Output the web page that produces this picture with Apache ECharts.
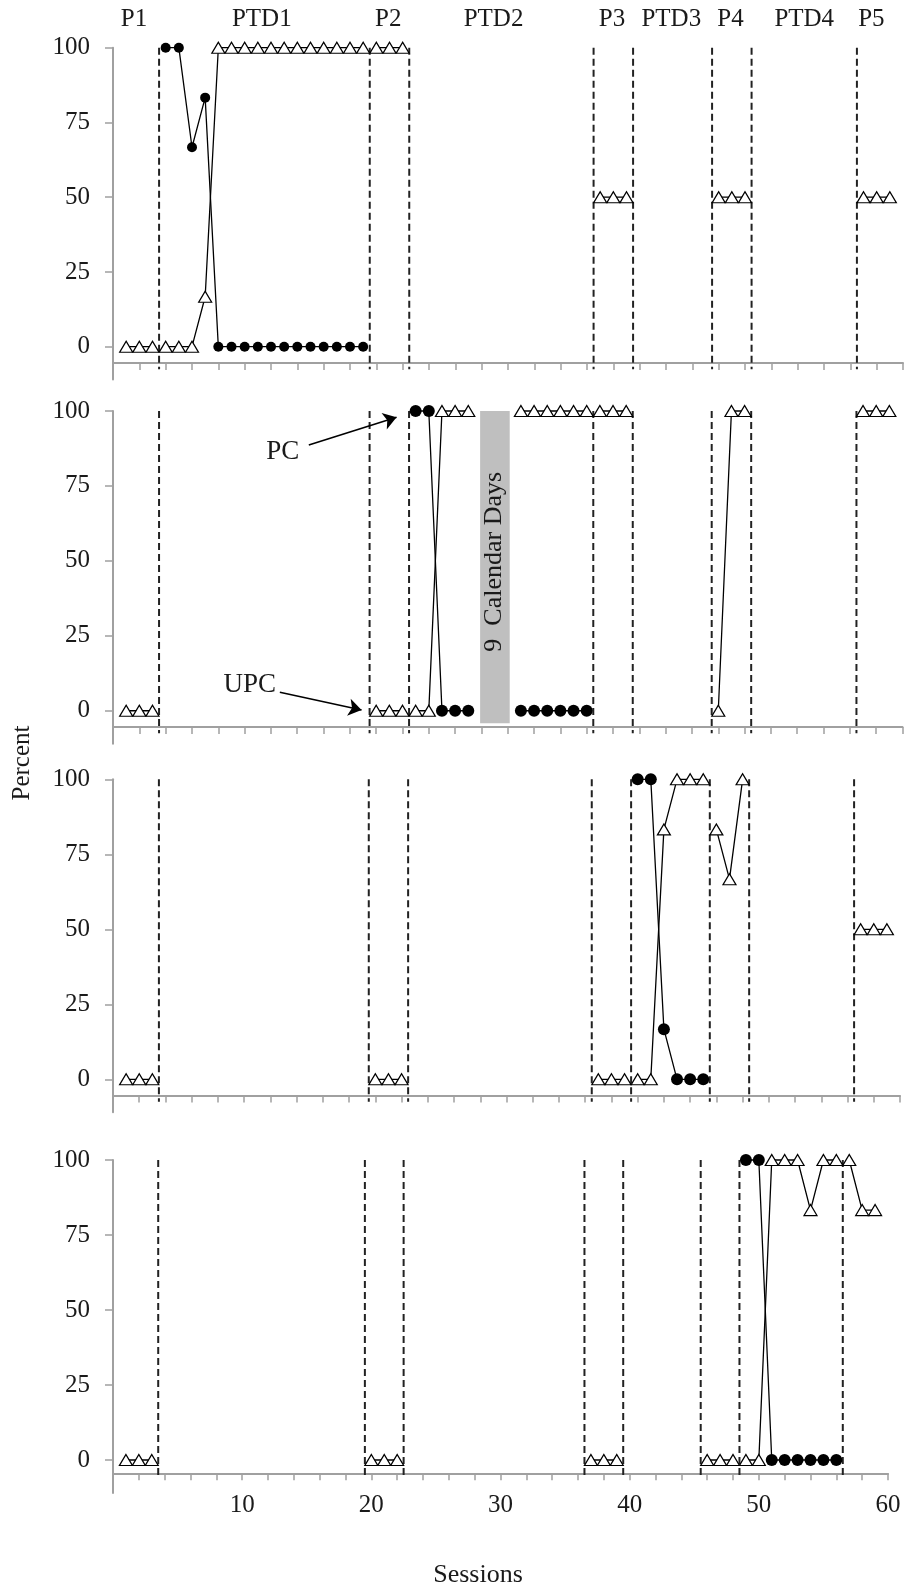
<!DOCTYPE html>
<html>
<head>
<meta charset="utf-8">
<title>PC / UPC by session</title>
<script src="https://cdn.jsdelivr.net/npm/echarts@6/dist/echarts.min.js"></script>
<style>
  html, body { margin: 0; padding: 0; background: #fff; }
  #main { width: 907px; height: 1591px; }
</style>
</head>
<body>
<div id="main"></div>
<script>
var N = null;
var sessions = [
  1, 2, 3, 4, 5, 6, 7, 8, 9, 10, 11, 12, 13, 14, 15, 16, 17, 18, 19, 20,
  21, 22, 23, 24, 25, 26, 27, 28, 29, 30, 31, 32, 33, 34, 35, 36, 37, 38, 39, 40,
  41, 42, 43, 44, 45, 46, 47, 48, 49, 50, 51, 52, 53, 54, 55, 56, 57, 58, 59, 60
];
// phase change lines, between sessions
var phaseLines = [3.5, 19.5, 22.5, 36.5, 39.5, 45.5, 48.5, 56.5];
var phaseNames = ["P1", "PTD1", "P2", "PTD2", "P3", "PTD3", "P4", "PTD4", "P5"];
var phaseLabelX = [1.6, 11.3, 20.9, 28.9, 37.9, 42.4, 46.9, 52.5, 57.6];
var phaseLabelY = 109.3;
var yTicks = [0, 25, 50, 75, 100];

// panel 1  (UPC = triangles, PC = circles)
var upc1 = [
  0, 0, 0, 0, 0, 0, 16.7, 100, 100, 100,
  100, 100, 100, 100, 100, 100, 100, 100, 100, 100,
  100, 100, N, N, N, N, N, N, N, N,
  N, N, N, N, N, N, 50, 50, 50, N,
  N, N, N, N, N, 50, 50, 50, N, N,
  N, N, N, N, N, N, 50, 50, 50, N
];
var pc1 = [
  N, N, N, 100, 100, 66.7, 83.3, 0, 0, 0,
  0, 0, 0, 0, 0, 0, 0, 0, 0, N,
  N, N, N, N, N, N, N, N, N, N,
  N, N, N, N, N, N, N, N, N, N,
  N, N, N, N, N, N, N, N, N, N,
  N, N, N, N, N, N, N, N, N, N
];
// panel 2
var upc2 = [
  0, 0, 0, N, N, N, N, N, N, N,
  N, N, N, N, N, N, N, N, N, 0,
  0, 0, 0, 0, 100, 100, 100, N, N, N,
  100, 100, 100, 100, 100, 100, 100, 100, 100, N,
  N, N, N, N, N, 0, 100, 100, N, N,
  N, N, N, N, N, N, 100, 100, 100, N
];
var pc2 = [
  N, N, N, N, N, N, N, N, N, N,
  N, N, N, N, N, N, N, N, N, N,
  N, N, 100, 100, 0, 0, 0, N, N, N,
  0, 0, 0, 0, 0, 0, N, N, N, N,
  N, N, N, N, N, N, N, N, N, N,
  N, N, N, N, N, N, N, N, N, N
];
// panel 3
var upc3 = [
  0, 0, 0, N, N, N, N, N, N, N,
  N, N, N, N, N, N, N, N, N, 0,
  0, 0, N, N, N, N, N, N, N, N,
  N, N, N, N, N, N, 0, 0, 0, 0,
  0, 83.3, 100, 100, 100, 83.3, 66.7, 100, N, N,
  N, N, N, N, N, N, 50, 50, 50, N
];
var pc3 = [
  N, N, N, N, N, N, N, N, N, N,
  N, N, N, N, N, N, N, N, N, N,
  N, N, N, N, N, N, N, N, N, N,
  N, N, N, N, N, N, N, N, N, 100,
  100, 16.7, 0, 0, 0, N, N, N, N, N,
  N, N, N, N, N, N, N, N, N, N
];
// panel 4
var upc4 = [
  0, 0, 0, N, N, N, N, N, N, N,
  N, N, N, N, N, N, N, N, N, 0,
  0, 0, N, N, N, N, N, N, N, N,
  N, N, N, N, N, N, 0, 0, 0, N,
  N, N, N, N, N, 0, 0, 0, 0, 0,
  100, 100, 100, 83.3, 100, 100, 100, 83.3, 83.3, N
];
var pc4 = [
  N, N, N, N, N, N, N, N, N, N,
  N, N, N, N, N, N, N, N, N, N,
  N, N, N, N, N, N, N, N, N, N,
  N, N, N, N, N, N, N, N, N, N,
  N, N, N, N, N, N, N, N, 100, 100,
  0, 0, 0, 0, 0, 0, N, N, N, N
];
var upcAll = [upc1, upc2, upc3, upc4];
var pcAll = [pc1, pc2, pc3, pc4];

// panel 2 annotations (data coords)
var notes = [
  { text: "PC", at: [12.9, 86.3] },
  { text: "UPC", at: [10.4, 8.6] }
];
var arrows = [
  [[14.88, 88.65], [21.55, 97.9]],
  [[12.68, 6.14], [18.89, 0.23]]
];
var gapFrom = 27.9, gapTo = 30.15, gapLow = -4.2, gapHigh = 101.5;
var gapText = "9  Calendar Days";
var gapTextAt = [29.0, 49.7];

// layout of the four stacked panels
var panels = [
  { top: 47.7, height: 331.9, right: 4, offset: -16.6, dot: 10, lineEnd: -7.5 },
  { top: 411, height: 332.7, right: 4.5, offset: -16.7, dot: 12, lineEnd: -7.5 },
  { top: 779.3, height: 333, right: 7, offset: -16.8, dot: 12, lineEnd: -7.5 },
  { top: 1160, height: 333, right: 19, offset: -19.7, dot: 12, lineEnd: -5.5 }
];

var FONT = "Liberation Serif";
var INK = "#1a1a1a";
var AXIS = "#a0a0a0";

function seriesData(vals) {
  var out = [];
  sessions.forEach(function (s, i) {
    if (phaseLines.indexOf(s - 0.5) >= 0) out.push([s - 0.5, null]);
    out.push([s, vals[i]]);
  });
  return out;
}

function phaseData(yEnd) {
  var out = [];
  phaseLines.forEach(function (x) {
    out.push([x, 100], [x, yEnd], [x, null]);
  });
  return out;
}

var grids = [], xAxes = [], yAxes = [], series = [];
panels.forEach(function (p, k) {
  grids.push({ left: 113, right: p.right, top: p.top, height: p.height, outerBoundsMode: "none" });
  xAxes.push({
    type: "value", gridIndex: k, min: 0, max: 60, interval: 2, offset: p.offset,
    axisLine: { show: true, onZero: false, lineStyle: { color: AXIS, width: 2 } },
    axisTick: { show: true, length: 7, lineStyle: { color: AXIS, width: 1.5 } },
    splitLine: { show: false },
    axisLabel: {
      show: k === 3, margin: 20, fontFamily: FONT, fontSize: 25, color: INK,
      showMinLabel: false, showMaxLabel: true,
      formatter: function (v) { return v % 10 === 0 && v > 0 ? String(v) : ""; }
    }
  });
  yAxes.push({
    type: "value", gridIndex: k, min: -11, max: 100,
    axisLine: { show: true, onZero: false, lineStyle: { color: AXIS, width: 2 } },
    axisTick: { show: true, length: 8, customValues: yTicks, lineStyle: { color: AXIS, width: 1.5 } },
    splitLine: { show: false },
    axisLabel: { customValues: yTicks, margin: 23, fontFamily: FONT, fontSize: 25, color: INK }
  });

  var phase = {
    type: "line", xAxisIndex: k, yAxisIndex: k, z: 1, silent: true, clip: false,
    symbol: "none", data: phaseData(p.lineEnd),
    lineStyle: { color: "#222", width: 2, type: [7, 4] }
  };
  if (k === 1) {
    phase.markArea = {
      silent: true,
      itemStyle: { color: "#bfbfbf" },
      data: [[{ coord: [gapFrom, gapHigh] }, { coord: [gapTo, gapLow] }]]
    };
    phase.markLine = {
      silent: true, symbol: ["none", "arrow"], symbolSize: 13,
      label: { show: false },
      lineStyle: { color: "#000", width: 1.6, type: "solid" },
      data: arrows.map(function (a) { return [{ coord: a[0] }, { coord: a[1] }]; })
    };
  }
  series.push(phase);

  series.push({
    name: "UPC", type: "line", xAxisIndex: k, yAxisIndex: k, z: 3, clip: false,
    data: seriesData(upcAll[k]), showAllSymbol: true,
    symbol: "triangle", symbolSize: [13, 11],
    itemStyle: { color: "#fff", borderColor: "#000", borderWidth: 1.2 },
    lineStyle: { color: "#000", width: 1.3 }
  });
  series.push({
    name: "PC", type: "line", xAxisIndex: k, yAxisIndex: k, z: 4, clip: false,
    data: seriesData(pcAll[k]), showAllSymbol: true,
    symbol: "circle", symbolSize: p.dot,
    itemStyle: { color: "#000", borderWidth: 0 },
    lineStyle: { color: "#000", width: 1.3 }
  });
});

var chart = echarts.init(document.getElementById("main"));
chart.setOption({
  animation: false,
  backgroundColor: "#fff",
  grid: grids,
  xAxis: xAxes,
  yAxis: yAxes,
  series: series
});

function txt(x, y, s, size, rot) {
  return {
    type: "text", x: x, y: y, rotation: rot || 0, silent: true, z: 10,
    style: {
      text: s, font: size + 'px "' + FONT + '"', fill: INK,
      align: "center", verticalAlign: "middle",
      textAlign: "center", textVerticalAlign: "middle"
    }
  };
}

var g = [];
phaseNames.forEach(function (n, i) {
  var pt = chart.convertToPixel({ gridIndex: 0 }, [phaseLabelX[i], phaseLabelY]);
  g.push(txt(pt[0], pt[1], n, 25));
});
notes.forEach(function (n) {
  var pt = chart.convertToPixel({ gridIndex: 1 }, n.at);
  g.push(txt(pt[0], pt[1], n.text, 27));
});
var gp = chart.convertToPixel({ gridIndex: 1 }, gapTextAt);
g.push(txt(gp[0], gp[1], gapText, 26, Math.PI / 2));
g.push(txt(22.3, 763, "Percent", 25, Math.PI / 2));
g.push(txt(478, 1575, "Sessions", 26));
chart.setOption({ graphic: { elements: g } });
</script>
</body>
</html>
